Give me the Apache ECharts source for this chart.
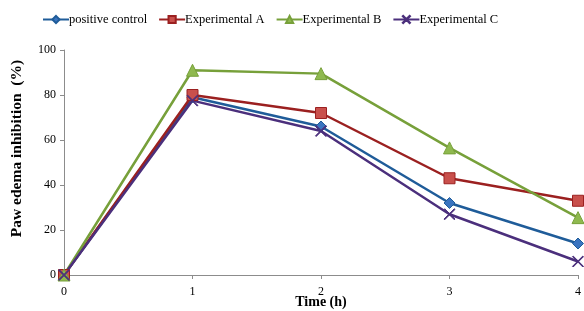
<!DOCTYPE html>
<html>
<head>
<meta charset="utf-8">
<script src="https://cdn.jsdelivr.net/npm/echarts@6/dist/echarts.min.js"></script>
<style>
  html, body { margin: 0; padding: 0; background: #fff; }
  #chart { width: 584px; height: 311px; }
</style>
</head>
<body>
<div id="chart"></div>
<script>
// values
const timeHours = [0, 1, 2, 3, 4]
const positiveControl = [0, 79, 66, 32, 14]
const experimentalA = [0, 80, 72, 43, 33]
const experimentalB = [0, 91, 89.5, 56.5, 25.5]
const experimentalC = [0, 77.5, 64, 27, 6]
const yTicks = [0, 20, 40, 60, 80, 100]

// thin X marker
const crossPath = 'path://M0,0.6L0.6,0L10,9.4L9.4,10ZM10,0.6L9.4,0L0,9.4L0.6,10Z'

const pairs = (vals) => vals.map((v, i) => [timeHours[i], v])

const makeSeries = (name, vals, color, symbol, symbolSize, markerColor) => ({
  name: name,
  type: 'line',
  data: pairs(vals),
  symbol: symbol,
  symbolSize: symbolSize,
  lineStyle: { color: color, width: 2.5 },
  itemStyle: { color: markerColor, borderColor: color, borderWidth: 1 },
  emphasis: { disabled: true }
})

const chart = echarts.init(document.getElementById('chart'))
chart.setOption({
  animation: false,
  textStyle: { fontFamily: 'Liberation Serif' },
  legend: {
    top: 8,
    left: 37,
    itemGap: 11,
    itemWidth: 26,
    itemHeight: 9,
    textStyle: { fontFamily: 'Liberation Serif', fontSize: 12.5, color: '#000', padding: [0, 0, 0, -5] },
    data: ['positive control', 'Experimental A', 'Experimental B', 'Experimental C']
  },
  grid: { left: 64, right: 6, top: 50, bottom: 36, containLabel: false, outerBoundsMode: 'none' },
  xAxis: {
    type: 'value',
    min: 0,
    max: 4,
    interval: 1,
    name: 'Time (h)',
    nameLocation: 'middle',
    nameGap: 20,
    nameMoveOverlap: false,
    nameTextStyle: { fontFamily: 'Liberation Serif', fontWeight: 'bold', fontSize: 14, color: '#000' },
    axisLine: { lineStyle: { color: '#8c8c8c', width: 1 } },
    axisTick: { show: true, length: 4, inside: false, lineStyle: { color: '#8c8c8c' } },
    axisLabel: { color: '#000', fontSize: 12, margin: 11 },
    splitLine: { show: false }
  },
  yAxis: {
    type: 'value',
    min: yTicks[0],
    max: yTicks[yTicks.length - 1],
    interval: 20,
    name: 'Paw edema inhibition  (%)',
    nameLocation: 'middle',
    nameGap: 39,
    nameMoveOverlap: false,
    nameTextStyle: { fontFamily: 'Liberation Serif', fontWeight: 'bold', fontSize: 15.5, color: '#000', padding: [0, 0, 0, 28] },
    axisLine: { show: true, lineStyle: { color: '#8c8c8c', width: 1 } },
    axisTick: { show: true, length: 4, lineStyle: { color: '#8c8c8c' } },
    axisLabel: { color: '#000', fontSize: 12, margin: 8 },
    splitLine: { show: false }
  },
  series: [
    makeSeries('positive control', positiveControl, '#1f5c99', 'diamond', 11, '#3a74c0'),
    makeSeries('Experimental A', experimentalA, '#9b2020', 'rect', 11, '#c9504c'),
    makeSeries('Experimental B', experimentalB, '#77a03a', 'triangle', 12, '#8fb94f'),
    makeSeries('Experimental C', experimentalC, '#4b2f7c', crossPath, 11, '#4b2f7c')
  ]
})
</script>
</body>
</html>
